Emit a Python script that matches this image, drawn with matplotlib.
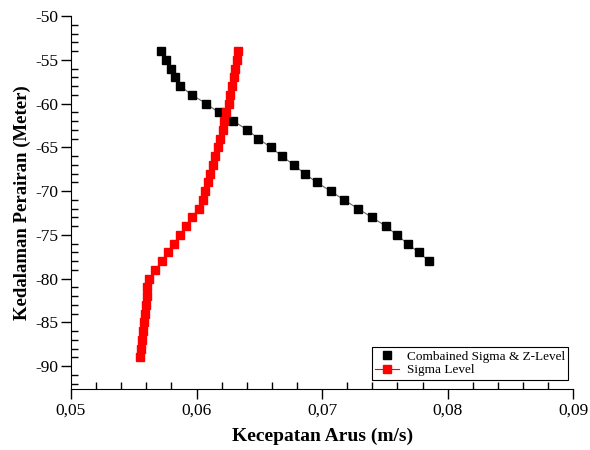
import numpy as np
import matplotlib
matplotlib.use("Agg")
import matplotlib.pyplot as plt
from matplotlib.ticker import MultipleLocator, FuncFormatter
from matplotlib.lines import Line2D

plt.rcParams['font.family'] = ['Liberation Serif', 'DejaVu Serif']

# depth (m) and current speed (m/s)
depth_combined = [-54, -55, -56, -57, -58, -59, -60, -61, -62, -63, -64, -65, -66,
                  -67, -68, -69, -70, -71, -72, -73, -74, -75, -76, -77, -78]
speed_combined = [0.05717, 0.05754, 0.05796, 0.05828, 0.05870, 0.05963, 0.06075,
                  0.06176, 0.06294, 0.06403, 0.06493, 0.06590, 0.06680, 0.06773,
                  0.06861, 0.06956, 0.07068, 0.07174, 0.07285, 0.07397, 0.07508,
                  0.07593, 0.07681, 0.07768, 0.07853]

depth_sigma = list(range(-54, -90, -1))
speed_sigma = [0.06327, 0.06319, 0.06308, 0.06295, 0.06284, 0.06268, 0.06258,
               0.06234, 0.06222, 0.06208, 0.06190, 0.06170, 0.06148, 0.06128,
               0.06107, 0.06089, 0.06069, 0.06049, 0.06019, 0.05961, 0.05913,
               0.05868, 0.05818, 0.05770, 0.05721, 0.05673, 0.05623, 0.05607,
               0.05603, 0.05595, 0.05587, 0.05581, 0.05571, 0.05565, 0.05557,
               0.05549]

fig = plt.figure(figsize=(5.9, 4.5), dpi=100)
ax = fig.add_axes([0.1203, 0.1356, 0.8514, 0.8288])

ax.plot(speed_combined, depth_combined, color='#666666', lw=0.8, zorder=2)
ax.plot(speed_combined, depth_combined, ls='none', marker='s', ms=6.3,
        mfc='black', mec='black', zorder=3)
ax.plot(speed_sigma, depth_sigma, color='red', lw=0.8, marker='s', ms=6.3,
        mfc='red', mec='red', zorder=3)

ax.set_xlim(0.05, 0.09)
ax.set_ylim(-92.6, -50)

ax.spines['top'].set_visible(False)
ax.spines['right'].set_visible(False)

ax.xaxis.set_major_locator(MultipleLocator(0.01))
ax.xaxis.set_minor_locator(MultipleLocator(0.002))
ax.yaxis.set_major_locator(MultipleLocator(5))
ax.yaxis.set_minor_locator(MultipleLocator(1))
ax.xaxis.set_major_formatter(FuncFormatter(lambda v, p: f"{v:.2f}".replace('.', ',')))
ax.yaxis.set_major_formatter(FuncFormatter(lambda v, p: f"{v:.0f}"))

ax.tick_params(which='major', direction='out', length=7, width=1, labelsize=12.5)
ax.tick_params(which='minor', direction='in', length=5, width=1)
ax.tick_params(axis='x', which='major', pad=3)
ax.tick_params(axis='y', which='major', pad=2)

ax.set_xlabel('Kecepatan Arus (m/s)', fontsize=14, fontweight='bold', labelpad=6)
ax.set_ylabel('Kedalaman Perairan (Meter)', fontsize=13.5, fontweight='bold', labelpad=3)

handles = [
    Line2D([], [], ls='none', marker='s', ms=6.3, mfc='black', mec='black'),
    Line2D([], [], color='red', lw=0.8, marker='s', ms=6.3, mfc='red', mec='red'),
]
leg = ax.legend(handles, ['Combained Sigma & Z-Level', 'Sigma Level'],
                loc='lower right', bbox_to_anchor=(0.99, 0.025), fontsize=9.5,
                frameon=True, fancybox=False, edgecolor='black', framealpha=1,
                borderpad=0.25, labelspacing=0.1, handlelength=1.8,
                handletextpad=0.6, borderaxespad=0)
leg.get_frame().set_linewidth(0.8)

fig.savefig('out.png', dpi=100)
